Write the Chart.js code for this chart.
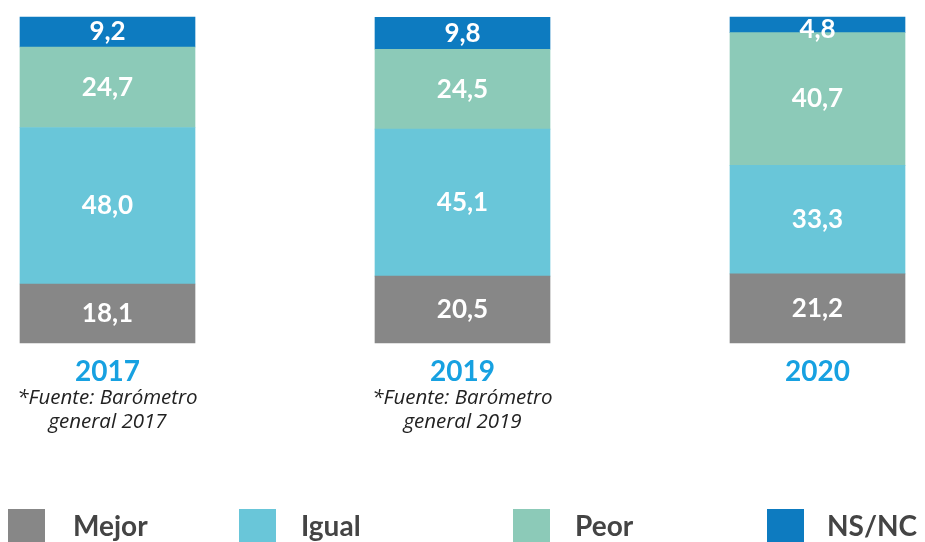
<!DOCTYPE html>
<html>
<head>
<meta charset="utf-8">
<script src="https://cdn.jsdelivr.net/npm/chart.js@4"></script>
<style>
  html, body { margin: 0; padding: 0; background: #fff; }
  #wrap { position: relative; width: 925px; height: 542px; }
</style>
</head>
<body>
<div id="wrap"><canvas id="chart" width="925" height="542"></canvas></div>
<script>
// Percepción por año: Mejor / Igual / Peor / NS-NC
const years = ['2017', '2019', '2020'];
const mejor = [18.1, 20.5, 21.2];
const igual = [48.0, 45.1, 33.3];
const peor = [24.7, 24.5, 40.7];
const nsnc = [9.2, 9.8, 4.8];
const notesLine1 = ['*Fuente: Barómetro', '*Fuente: Barómetro', ''];
const notesLine2 = ['general 2017', 'general 2019', ''];

const FONT = 'Lato, "Open Sans", sans-serif';

function fmt(v) {
    return v.toFixed(1).replace('.', ',');
}

const segmentLabels = {
    id: 'segmentLabels',
    afterDatasetsDraw(chart) {
        const ctx = chart.ctx;
        ctx.save();
        ctx.fillStyle = '#fff';
        ctx.font = 'bold 26px ' + FONT;
        ctx.textAlign = 'center';
        ctx.textBaseline = 'middle';
        chart.data.datasets.forEach((ds, i) => {
            const meta = chart.getDatasetMeta(i);
            meta.data.forEach((bar, j) => {
                const top = Math.min(bar.y, bar.base);
                const mid = (bar.y + bar.base) / 2;
                ctx.fillText(fmt(ds.data[j]), bar.x, Math.max(mid, top + 13));
            });
        });
        ctx.restore();
    }
};

const notesAndLegend = {
    id: 'notesAndLegend',
    afterDraw(chart) {
        const ctx = chart.ctx;
        const x = chart.scales.x;
        ctx.save();
        ctx.fillStyle = '#222';
        ctx.font = 'italic 20.5px "Open Sans", sans-serif';
        ctx.textAlign = 'center';
        ctx.textBaseline = 'middle';
        years.forEach((y, i) => {
            const px = x.getPixelForValue(i);
            ctx.fillText(notesLine1[i], px, 398);
            ctx.fillText(notesLine2[i], px, 422);
        });

        // legend
        const boxX = [8, 239, 513, 767];
        const textX = [73, 301, 575, 827];
        ctx.font = 'bold 28px ' + FONT;
        ctx.textAlign = 'left';
        ctx.textBaseline = 'alphabetic';
        chart.data.datasets.forEach((ds, i) => {
            ctx.fillStyle = ds.backgroundColor;
            ctx.fillRect(boxX[i], 509, 37, 34);
            ctx.fillStyle = '#444';
            ctx.fillText(ds.label, textX[i], 536);
        });
        ctx.restore();
    }
};

new Chart(document.getElementById('chart'), {
    type: 'bar',
    data: {
        labels: years,
        datasets: [
            { label: 'Mejor', data: mejor, backgroundColor: '#878787' },
            { label: 'Igual', data: igual, backgroundColor: '#69c6d9' },
            { label: 'Peor', data: peor, backgroundColor: '#8ccab8' },
            { label: 'NS/NC', data: nsnc, backgroundColor: '#0d7bc0' }
        ]
    },
    options: {
        responsive: false,
        animation: false,
        layout: { padding: { left: 107.5, right: 107.5, top: 17, bottom: 0 } },
        datasets: { bar: { barThickness: 175, borderWidth: 0, clip: false } },
        plugins: {
            legend: { display: false },
            tooltip: { enabled: false }
        },
        scales: {
            x: {
                stacked: true,
                offset: false,
                grid: { display: false, drawTicks: false },
                border: { display: false },
                ticks: {
                    color: '#17a1e1',
                    font: { family: FONT, size: 28, weight: 'bold' },
                    padding: 12
                },
                afterFit: (scale) => { scale.height = 199; }
            },
            y: {
                stacked: true,
                display: false,
                min: 0,
                max: 100
            }
        }
    },
    plugins: [segmentLabels, notesAndLegend]
});
</script>
</body>
</html>
